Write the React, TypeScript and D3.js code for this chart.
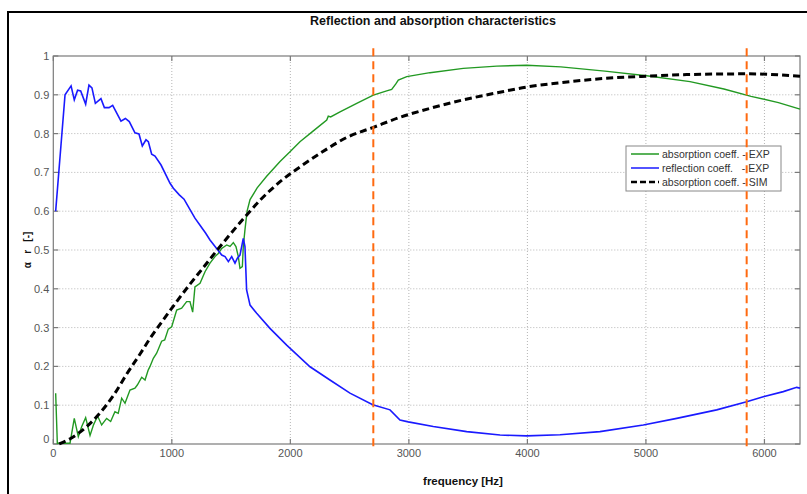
import React from "react";
import * as d3 from "d3";

// absorption coeff. - EXP  [frequency Hz, value]
const absorptionExp: [number, number][] = [
  [20, 0.131], [34, 0.002], [141, 0.002], [177, 0.066], [211, 0.019], [240, 0.045],
  [273, 0.068], [310, 0.022], [340, 0.05], [374, 0.072], [408, 0.049], [450, 0.066],
  [484, 0.058], [520, 0.083], [548, 0.079], [577, 0.118], [605, 0.105], [647, 0.139],
  [689, 0.144], [709, 0.152], [746, 0.172], [774, 0.165], [800, 0.19], [816, 0.2],
  [844, 0.221], [872, 0.234], [914, 0.265], [940, 0.268], [970, 0.296], [999, 0.302],
  [1041, 0.345], [1083, 0.35], [1125, 0.367], [1153, 0.367], [1176, 0.34], [1195, 0.405],
  [1238, 0.414], [1280, 0.444], [1322, 0.466], [1364, 0.483], [1392, 0.491], [1421, 0.504],
  [1463, 0.513], [1491, 0.509], [1519, 0.519], [1541, 0.509], [1561, 0.483], [1575, 0.453],
  [1595, 0.457], [1603, 0.509], [1617, 0.552], [1635, 0.6], [1660, 0.63], [1720, 0.66],
  [1800, 0.69], [1913, 0.728], [1997, 0.753], [2081, 0.779], [2194, 0.807], [2307, 0.835],
  [2320, 0.845], [2340, 0.843], [2419, 0.856], [2560, 0.878], [2700, 0.899], [2813, 0.91],
  [2855, 0.914], [2890, 0.928], [2911, 0.938], [2982, 0.947], [3178, 0.957], [3459, 0.968],
  [3741, 0.974], [3994, 0.976], [4282, 0.972], [4654, 0.961], [5006, 0.949], [5372, 0.934],
  [5658, 0.915], [5887, 0.896], [6118, 0.88], [6300, 0.863],
];

// reflection coeff. - EXP
const reflectionExp: [number, number][] = [
  [20, 0.6], [99, 0.9], [150, 0.923], [177, 0.887], [205, 0.912], [231, 0.91],
  [273, 0.876], [301, 0.925], [326, 0.918], [355, 0.878], [402, 0.89], [431, 0.867],
  [470, 0.867], [501, 0.873], [571, 0.832], [608, 0.839], [641, 0.831], [689, 0.802],
  [723, 0.799], [751, 0.768], [782, 0.784], [802, 0.779], [830, 0.747], [858, 0.742],
  [909, 0.719], [985, 0.672], [1013, 0.659], [1063, 0.642], [1103, 0.631], [1139, 0.612],
  [1195, 0.582], [1238, 0.564], [1286, 0.543], [1322, 0.526], [1378, 0.504], [1421, 0.487],
  [1449, 0.483], [1477, 0.47], [1505, 0.483], [1533, 0.466], [1553, 0.479], [1575, 0.487],
  [1603, 0.53], [1617, 0.509], [1631, 0.397], [1660, 0.358], [1716, 0.337], [1828, 0.298],
  [1969, 0.255], [2166, 0.199], [2334, 0.165], [2503, 0.131], [2695, 0.101], [2841, 0.088],
  [2925, 0.062], [2995, 0.057], [3206, 0.045], [3488, 0.032], [3769, 0.023], [3994, 0.021],
  [4275, 0.024], [4612, 0.032], [4978, 0.049], [5260, 0.066], [5597, 0.088], [5850, 0.109],
  [5990, 0.122], [6159, 0.135], [6272, 0.146], [6300, 0.144],
];

// absorption coeff. - SIM
const absorptionSim: [number, number][] = [
  [50, 0], [150, 0.015], [282, 0.045], [394, 0.08], [507, 0.125], [619, 0.18],
  [732, 0.232], [816, 0.272], [928, 0.32], [1041, 0.367], [1153, 0.412], [1266, 0.455],
  [1378, 0.498], [1491, 0.54], [1617, 0.585], [1750, 0.63], [1913, 0.676], [2081, 0.714],
  [2307, 0.76], [2475, 0.79], [2700, 0.816], [2925, 0.842], [3178, 0.865],
  [3459, 0.887], [3741, 0.905], [3994, 0.92], [4275, 0.931], [4638, 0.942], [5006, 0.948],
  [5344, 0.952], [5850, 0.954], [6300, 0.948],
];

const markerFreqs = [2700, 5850];
const xTicks = [0, 1000, 2000, 3000, 4000, 5000, 6000];
const yTicks = [0, 0.1, 0.2, 0.3, 0.4, 0.5, 0.6, 0.7, 0.8, 0.9, 1];

const legendItems = [
  { label: "absorption coeff. - EXP", color: "#229922", dash: "", width: 1.5 },
  { label: "reflection coeff.   - EXP", color: "#1a1aff", dash: "", width: 1.5 },
  { label: "absorption coeff. - SIM", color: "#000000", dash: "6,3", width: 2.5 },
];

export default function App() {
  const W = 807, H = 494;
  const x = d3.scaleLinear().domain([0, 6300]).range([53.3, 800]);
  const y = d3.scaleLinear().domain([0, 1]).range([444, 56]);
  const [x0, x1] = x.range();
  const [y0, y1] = y.range();

  const line = d3.line<[number, number]>().x(d => x(d[0])).y(d => y(d[1]));
  const smooth = d3.line<[number, number]>().x(d => x(d[0])).y(d => y(d[1])).curve(d3.curveMonotoneX);

  const font = "Arial, 'Liberation Sans', sans-serif";
  const axisColor = "#7a7a7a";
  const lx = 626, ly = 146;

  return (
    <svg width={W} height={H} style={{ position: "absolute", left: 0, top: 0, background: "#fff" }} fontFamily={font}>
      <rect x={8} y={12} width={W + 20} height={H + 20} fill="#fff" stroke="#000" strokeWidth={2} />
      <text x={433} y={25} textAnchor="middle" fontSize={12.5} fontWeight="bold" fill="#111">
        Reflection and absorption characteristics
      </text>

      {/* grid */}
      {yTicks.slice(1, -1).map((t, i) => (
        <line key={"gy" + i} x1={x0} x2={x1} y1={y(t)} y2={y(t)} stroke="#b5b5b5" strokeWidth={1} strokeDasharray="1,2" />
      ))}
      {xTicks.slice(1).map((t, i) => (
        <line key={"gx" + i} x1={x(t)} x2={x(t)} y1={y0} y2={y1} stroke="#b5b5b5" strokeWidth={1} strokeDasharray="1,2" />
      ))}

      {/* axes box + ticks */}
      <rect x={x0} y={y1} width={x1 - x0} height={y0 - y1} fill="none" stroke={axisColor} strokeWidth={1.2} />
      {yTicks.map((t, i) => (
        <g key={"ty" + i}>
          <line x1={x0} x2={x0 + 5} y1={y(t)} y2={y(t)} stroke={axisColor} strokeWidth={1.2} />
          <line x1={x1} x2={x1 - 5} y1={y(t)} y2={y(t)} stroke={axisColor} strokeWidth={1.2} />
          <text x={x0 - 4} y={y(t) + (t === 0 ? -1 : 4)} textAnchor="end" fontSize={11} fill="#555">{d3.format("~g")(t)}</text>
        </g>
      ))}
      {xTicks.map((t, i) => (
        <g key={"tx" + i}>
          <line x1={x(t)} x2={x(t)} y1={y0} y2={y0 - 5} stroke={axisColor} strokeWidth={1.2} />
          <line x1={x(t)} x2={x(t)} y1={y1} y2={y1 + 5} stroke={axisColor} strokeWidth={1.2} />
          <text x={x(t)} y={y0 + 13} textAnchor="middle" fontSize={11} fill="#555">{t}</text>
        </g>
      ))}

      {/* curves */}
      <path d={line(absorptionExp) || ""} fill="none" stroke="#229922" strokeWidth={1.4} />
      <path d={line(reflectionExp) || ""} fill="none" stroke="#1a1aff" strokeWidth={1.6} />
      <path d={smooth(absorptionSim) || ""} fill="none" stroke="#000" strokeWidth={3} strokeDasharray="7,4" />

      {/* legend */}
      <rect x={lx} y={ly} width={155} height={45} fill="#fff" stroke="#888" strokeWidth={1} />
      {legendItems.map((d, i) => (
        <g key={"lg" + i}>
          <line x1={lx + 5} x2={lx + 33} y1={ly + 8 + i * 14} y2={ly + 8 + i * 14} stroke={d.color} strokeWidth={d.width} strokeDasharray={d.dash} />
          <text x={lx + 36} y={ly + 12 + i * 14} fontSize={10.5} fill="#333" xmlSpace="preserve">{d.label}</text>
        </g>
      ))}

      {/* marker lines */}
      {markerFreqs.map((f, i) => (
        <line key={"m" + i} x1={x(f)} x2={x(f)} y1={y(1.02)} y2={y(-0.015)} stroke="#ff6a10" strokeWidth={2} strokeDasharray="8,5" />
      ))}

      <text x={463} y={485} textAnchor="middle" fontSize={11.5} fontWeight="bold" fill="#111">frequency [Hz]</text>
      <text transform={`translate(31,250) rotate(-90)`} textAnchor="middle" fontSize={10} fontWeight="bold" fill="#111" xmlSpace="preserve">α   r   [-]</text>
    </svg>
  );
}
